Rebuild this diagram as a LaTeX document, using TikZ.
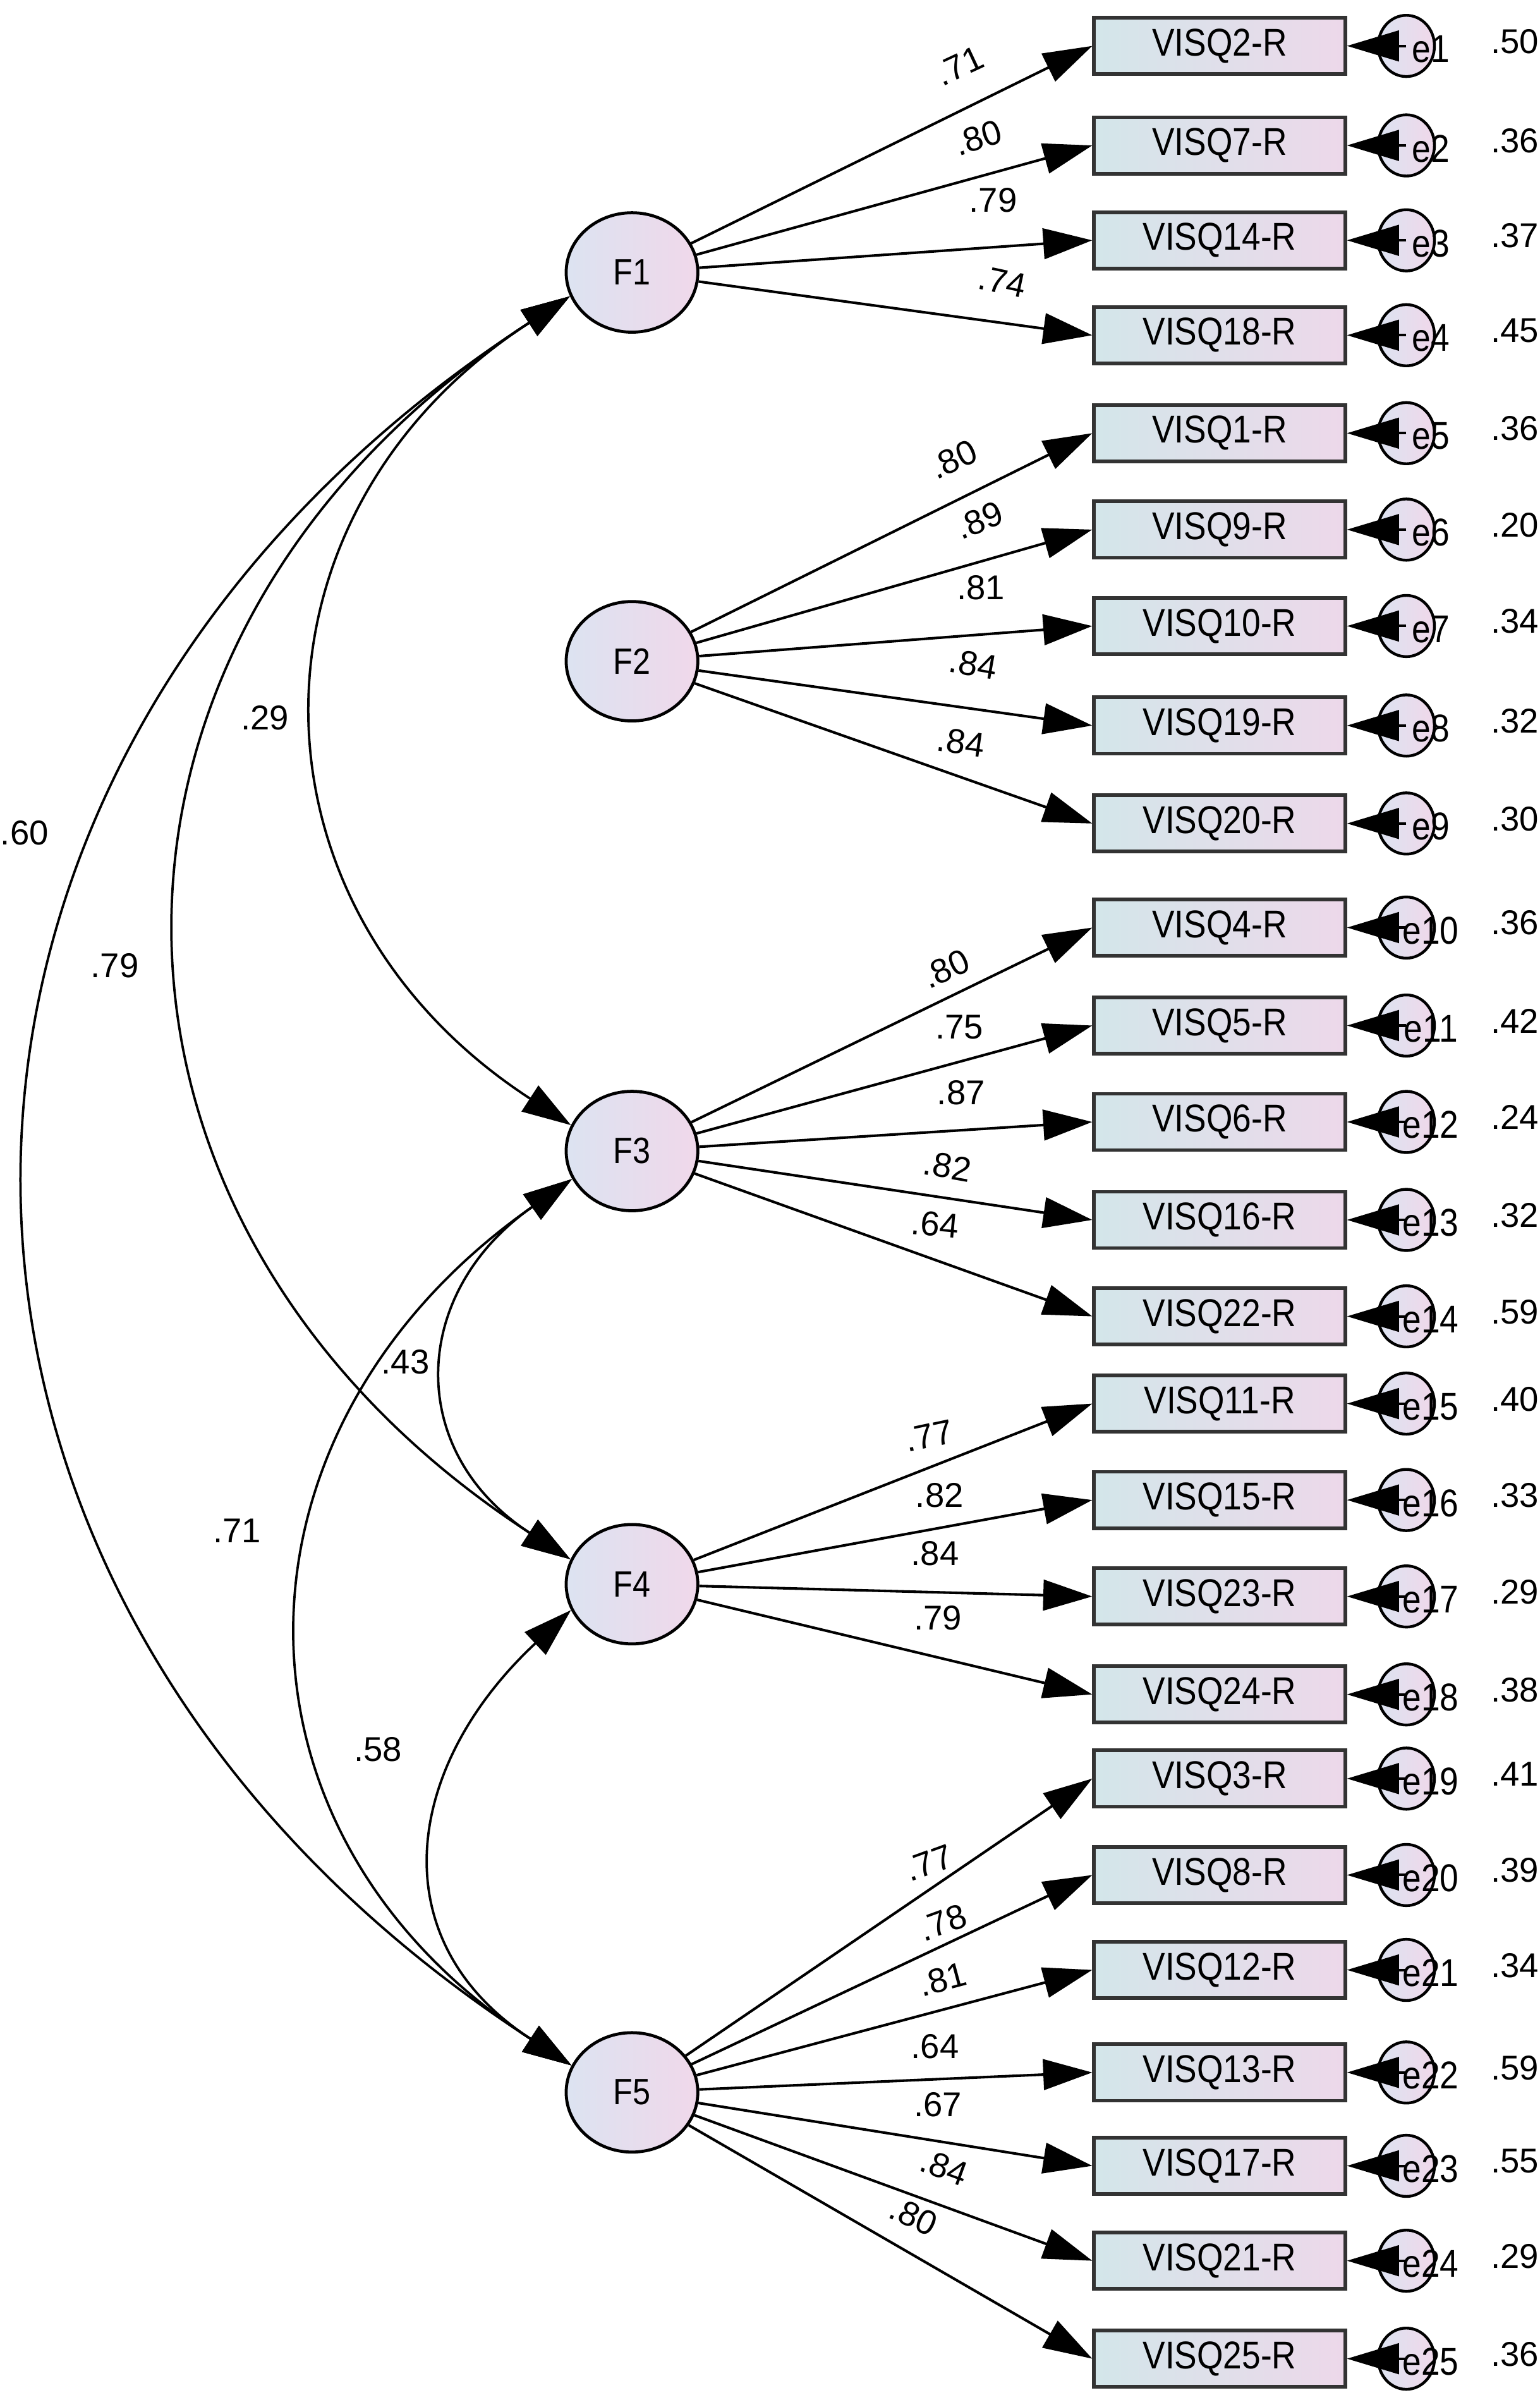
\documentclass[tikz,border=0pt]{standalone}
\usepackage{fontspec}
\usepackage{graphicx}
\setmainfont{Liberation Sans}
\usetikzlibrary{arrows.meta,shapes.geometric}
\definecolor{latleft}{HTML}{DCE3F1}
\definecolor{latright}{HTML}{F0D8EA}
\definecolor{obsleft}{HTML}{D3E6EA}
\definecolor{obsright}{HTML}{EDD8EA}
\newcommand{\nar}[1]{\scalebox{0.87}[1]{#1}}

\begin{document}
\begin{tikzpicture}[x=0.025cm, y=-0.025cm,
    latent/.style={ellipse, draw, line width=1.4pt, minimum width=2.15cm, minimum height=1.95cm, left color=latleft, right color=latright, font=\fontsize{17}{19}\selectfont},
    observed/.style={rectangle, draw=black!80, line width=1.7pt, minimum width=4.1cm, minimum height=0.92cm, left color=obsleft, right color=obsright, font=\fontsize{18}{20}\selectfont},
    errvar/.style={ellipse, draw, line width=1.3pt, minimum width=0.92cm, minimum height=1.0cm, inner sep=0pt, left color=latleft, right color=latright},
    load/.style={-{Triangle[length=0.8cm, width=0.5cm]}, line width=1.2pt},
    cov/.style={{Triangle[length=0.8cm, width=0.5cm]}-{Triangle[length=0.8cm, width=0.5cm]}, line width=1.1pt},
    errarrow/.style={-{Triangle[length=0.85cm, width=0.5cm]}, line width=1.2pt},
    num/.style={font=\fontsize{16}{18}\selectfont, inner sep=0pt}]
    \useasboundingbox (0,0) rectangle (1006,1568);

    % Latent factors
    \foreach \f/\y in {1/178, 2/432, 3/752, 4/1035, 5/1367} {
      \node[latent] (F\f) at (413,\y) {\nar{F\f}};
    }

    % Observed items, errors and residual values
    \foreach \i/\lab/\y/\res in {1/VISQ2-R/30/.50, 2/VISQ7-R/95/.36, 3/VISQ14-R/157/.37, 4/VISQ18-R/219/.45,
        5/VISQ1-R/283/.36, 6/VISQ9-R/346/.20, 7/VISQ10-R/409/.34, 8/VISQ19-R/474/.32, 9/VISQ20-R/538/.30,
        10/VISQ4-R/606/.36, 11/VISQ5-R/670/.42, 12/VISQ6-R/733/.24, 13/VISQ16-R/797/.32, 14/VISQ22-R/860/.59,
        15/VISQ11-R/917/.40, 16/VISQ15-R/980/.33, 17/VISQ23-R/1043/.29, 18/VISQ24-R/1107/.38,
        19/VISQ3-R/1162/.41, 20/VISQ8-R/1225/.39, 21/VISQ12-R/1287/.34, 22/VISQ13-R/1354/.59,
        23/VISQ17-R/1415/.55, 24/VISQ21-R/1477/.29, 25/VISQ25-R/1541/.36} {
      \node[observed] (obs-\i) at (797,\y) {\nar{\lab}};
      \node[errvar] (err-\i) at (919,\y) {};
      \draw[errarrow] (err-\i.center) -- (obs-\i.east);
      \node[font=\fontsize{18}{20}\selectfont, inner sep=0pt] (elab-\i) at (935,\y+2) {\nar{e\i}};
      \node[num] (res-\i) at (990,\y-3) {\res};
    }

    % Factor loadings
    \foreach \f/\i in {1/1, 1/2, 1/3, 1/4, 2/5, 2/6, 2/7, 2/8, 2/9,
        3/10, 3/11, 3/12, 3/13, 3/14, 4/15, 4/16, 4/17, 4/18,
        5/19, 5/20, 5/21, 5/22, 5/23, 5/24, 5/25} {
      \draw[load] (F\f) -- (obs-\i.west);
    }
    \foreach \x/\y/\r/\v in {627/43/25/.71, 639/90/18/.80, 649/131/0/.79, 655/184/-12/.74,
        623/300/25/.80, 640/340/22/.89, 641/384/0/.81, 636/434/-10/.84, 628/485/-8/.84,
        618/633/25/.80, 627/671/0/.75, 628/714/0/.87, 619/762/-10/.82, 611/800/-5/.64,
        607/938/12/.77, 614/977/0/.82, 611/1015/0/.84, 613/1057/0/.79,
        607/1217/20/.77, 616/1256/20/.78, 616/1293/15/.81, 611/1337/0/.64,
        613/1375/0/.67, 617/1416/-20/.84, 597/1448/-25/.80} {
      \node[num, rotate=\r] at (\x,\y) {\v};
    }

    % Covariances between factors
    \draw[cov] (F1.201) to[out=213, in=147, looseness=1.24] (F3.157);
    \draw[cov] (F1.201) to[out=213, in=147, looseness=1.255] (F4.158);
    \draw[cov] (F1.201) to[out=213, in=147, looseness=1.245] (F5.156);
    \draw[cov] (F3.205) to[out=215, in=147, looseness=1.33] (F4.158);
    \draw[cov] (F3.205) to[out=215, in=147, looseness=1.25] (F5.156);
    \draw[cov] (F4.203) to[out=223, in=147, looseness=1.29] (F5.156);
    \node[num] (c13) at (173,469) {.29};
    \node[num] (c15) at (16,544) {.60};
    \node[num] (c14) at (75,631) {.79};
    \node[num] (c34) at (265,890) {.43};
    \node[num] (c35) at (155,1000) {.71};
    \node[num] (c45) at (247,1143) {.58};
  \end{tikzpicture}
\end{document}
